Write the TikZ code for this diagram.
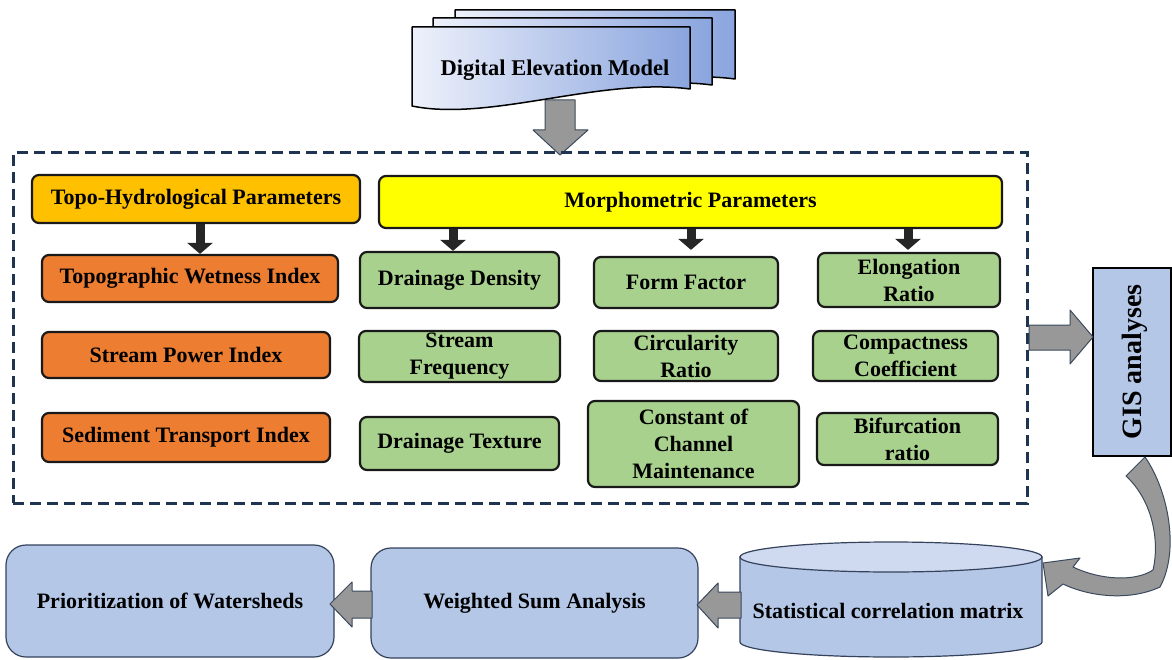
\documentclass[tikz,border=0pt]{standalone}
\usepackage{fontspec}
\setmainfont{Liberation Serif}
\usetikzlibrary{arrows.meta}
\definecolor{navy}{HTML}{1F3450}
\definecolor{orangefill}{HTML}{ED7D31}
\definecolor{greenfill}{HTML}{A9D18E}
\definecolor{topofill}{HTML}{FFC000}
\definecolor{morphfill}{HTML}{FFFF00}
\definecolor{bluefill}{HTML}{B4C7E7}
\definecolor{cyltop}{HTML}{CFDAF0}
\definecolor{arrowgray}{HTML}{989898}
\definecolor{arrowedge}{HTML}{3B4A5E}
\definecolor{arrowdark}{HTML}{262626}
\definecolor{bborder}{HTML}{34425C}
\definecolor{docleft}{HTML}{EEF1FB}
\definecolor{docright}{HTML}{8AA5DE}
\begin{document}
\begin{tikzpicture}[x=1pt,y=-1pt,
  base/.style={font=\fontsize{22}{27}\selectfont\bfseries, align=center, inner sep=0pt, text=black},
  pbox/.style={base, draw=black!90, line width=2.2pt, rounded corners=7pt},
  gbox/.style={pbox, fill=greenfill},
  obox/.style={pbox, fill=orangefill},
  bbox/.style={base, draw=bborder, line width=1.2pt, rounded corners=20pt, fill=bluefill},
  darkarrow/.style={draw=arrowdark, line width=9pt, -{Triangle[width=25pt,length=11pt]}},
  grayarrow/.style={fill=arrowgray, draw=arrowedge, line width=1pt, line join=round},
  dashframe/.style={draw=navy, line width=3pt, dash pattern=on 11pt off 6pt},
  docstyle/.style={left color=docleft, right color=docright, draw=black, line width=1.5pt, line join=round}
]
\useasboundingbox (0,0) rectangle (1172,660);

% ---------- DEM stack ----------
\draw[grayarrow] (545,100) -- (575,100) -- (575,130) -- (588,130) -- (560,155) -- (533,130) -- (545,130) -- cycle;
\path[docstyle] (455,10) -- (735,10) -- (735,79) .. controls (645,67) and (533,111) .. (455,95) -- cycle;
\path[docstyle] (433,18) -- (712,18) -- (712,85) .. controls (622,73) and (511,117) .. (433,101) -- cycle;
\path[docstyle] (412,27) -- (690,27) -- (690,89) .. controls (600,77) and (490,122) .. (412,106) -- cycle;
\node[base, font=\fontsize{22.5}{27}\selectfont\bfseries] (dem) at (555,70) {Digital Elevation Model};

% ---------- dashed frame ----------
\node[dashframe, minimum width=1014pt, minimum height=350pt, inner sep=0pt] (frame) at (520,328) {};

% ---------- headers ----------
\node[pbox, fill=topofill, minimum width=328pt, minimum height=48pt] (topo) at (196,199) {Topo-Hydrological Parameters};
\node[pbox, fill=morphfill, minimum width=623pt, minimum height=52pt] (morph) at (690.5,202) {Morphometric Parameters};

% ---------- topo-hydrological ----------
\node[obox, minimum width=296pt, minimum height=47pt] (twi) at (190,278.5) {Topographic Wetness Index};
\node[obox, minimum width=288pt, minimum height=46pt] (spi) at (186,355) {Stream Power Index};
\node[obox, minimum width=288pt, minimum height=49pt] (sti) at (186,437.5) {Sediment Transport Index};

% ---------- morphometric ----------
\node[gbox, minimum width=199pt, minimum height=56pt] (dd) at (459.5,280) {Drainage Density};
\node[gbox, minimum width=184pt, minimum height=51pt] (ff) at (686,282.5) {Form Factor};
\node[gbox, minimum width=182pt, minimum height=54pt] (er) at (909,280) {Elongation\\Ratio};
\node[gbox, minimum width=201pt, minimum height=51pt] (sf) at (459.5,356.5) {Stream\\Frequency};
\node[gbox, minimum width=184pt, minimum height=50pt] (cr) at (686,356) {Circularity\\Ratio};
\node[gbox, minimum width=185pt, minimum height=50pt] (cc) at (905.5,356) {Compactness\\Coefficient};
\node[gbox, minimum width=199pt, minimum height=53pt] (dt) at (459.5,443.5) {Drainage Texture};
\node[gbox, minimum width=211pt, minimum height=86pt] (ccm) at (693.5,444) {Constant of\\Channel\\Maintenance};
\node[gbox, minimum width=181pt, minimum height=52pt] (br) at (907.5,439) {Bifurcation\\ratio};

% ---------- dark arrows ----------
\coordinate (x0) at (200,0);
\coordinate (x1) at (453,0);
\coordinate (x2) at (691,0);
\coordinate (x3) at (908,0);
\draw[darkarrow] (topo.south -| x0) -- (twi.north -| x0);
\draw[darkarrow] (morph.south -| x1) -- (dd.north -| x1);
\draw[darkarrow, shorten >=6pt] (morph.south -| x2) -- (ff.north -| x2);
\draw[darkarrow, shorten >=2pt] (morph.south -| x3) -- (er.north -| x3);

% ---------- GIS ----------
\node[base, draw=black, line width=2.8pt, fill=bluefill, minimum width=78pt, minimum height=188pt] (gis) at (1132,362) {};
\node[base, rotate=90, font=\fontsize{28}{30}\selectfont\bfseries] (gistext) at (1135,362) {GIS analyses};
\draw[grayarrow] (1029,325) -- (1070,325) -- (1070,310) -- (1093,337) -- (1070,364) -- (1070,350) -- (1029,350) -- cycle;

% ---------- bottom row ----------
\node[bbox, minimum width=328pt, minimum height=112pt] (prior) at (170,601) {Prioritization of Watersheds};
\node[bbox, minimum width=327pt, minimum height=110pt] (wsa) at (534.5,603) {Weighted Sum Analysis};

% cylinder
\path[fill=bluefill, draw=bborder, line width=1.2pt] (740,557) -- (740,642)
  .. controls (740,650.3) and (807.6,657) .. (891,657)
  .. controls (974.4,657) and (1042,650.3) .. (1042,642) -- (1042,557) -- cycle;
\draw[fill=cyltop, draw=bborder, line width=1.2pt] (891,557) ellipse [x radius=151pt, y radius=15pt];
\node[minimum width=302pt, minimum height=115pt, inner sep=0pt] (cyl) at (891,599.5) {};
\node[base] (scm) at (888,611) {Statistical correlation matrix};

\draw[grayarrow] (372,591) -- (352,591) -- (352,582) -- (330,604) -- (352,627) -- (352,618) -- (372,618) -- cycle;
\draw[grayarrow] (741,592) -- (718,592) -- (718,583) -- (697,605) -- (718,628) -- (718,618) -- (741,618) -- cycle;

% curved arrow GIS -> cylinder
\draw[grayarrow] (1126,476) -- (1145,457)
  .. controls (1168,490) and (1180,550) .. (1160,587)
  .. controls (1130,601) and (1090,597) .. (1063,584)
  -- (1048,596) -- (1043,563) -- (1080,558) -- (1073,567)
  .. controls (1100,580) and (1135,582) .. (1153,570)
  .. controls (1160,540) and (1152,500) .. (1126,476) -- cycle;
\end{tikzpicture}
\end{document}
